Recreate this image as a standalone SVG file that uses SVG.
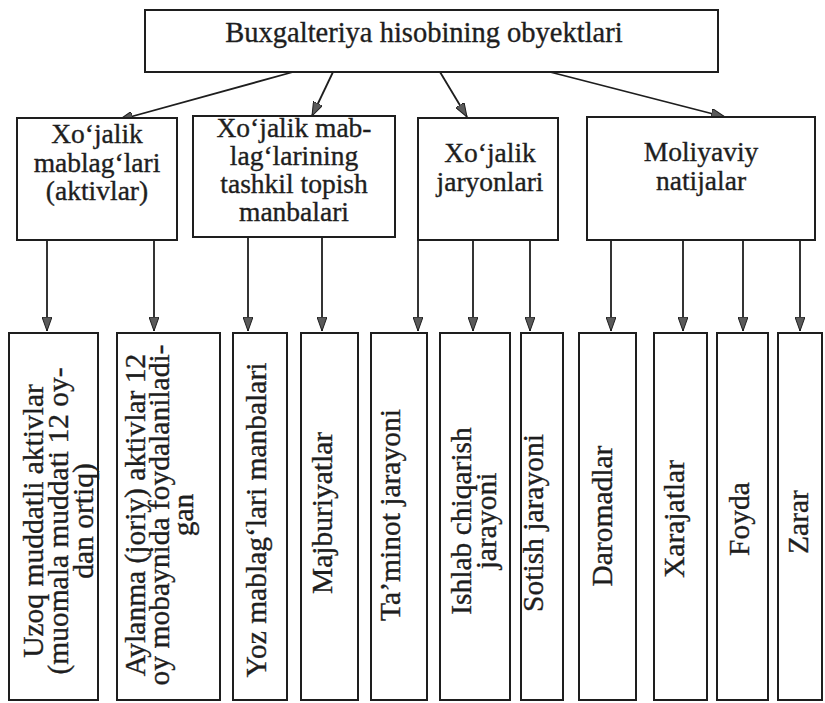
<svg xmlns="http://www.w3.org/2000/svg" width="825" height="703" viewBox="0 0 825 703">
<style>
  .box { fill: #ffffff; stroke: #1e1e1e; stroke-width: 2; }
  .txt { font-family: "Liberation Serif", "Times New Roman", serif; font-size: 27.5px; fill: #1e1e1e; stroke: #1e1e1e; stroke-width: 0.35; text-anchor: middle; }
  .vt { font-size: 29.5px; }
  .con { stroke: #1e1e1e; stroke-width: 1.8; fill: none; marker-end: url(#ah); }
</style>
<defs>
  <marker id="ah" viewBox="0 0 14 10" refX="14" refY="5" markerWidth="14" markerHeight="10" markerUnits="userSpaceOnUse" orient="auto">
    <path d="M0,0 L14,5 L0,10 z" fill="#5a5a5a" stroke="#1e1e1e" stroke-width="1"/>
  </marker>
</defs>
<rect width="825" height="703" fill="#ffffff"/>

<g id="connectors">
  <line class="con" x1="293" y1="72" x2="119" y2="120"/>
  <line class="con" x1="333" y1="72" x2="312" y2="116"/>
  <line class="con" x1="440" y1="72" x2="467" y2="117"/>
  <line class="con" x1="550" y1="72" x2="725" y2="117"/>

  <line class="con" x1="47" y1="240" x2="47" y2="331"/>
  <line class="con" x1="154" y1="240" x2="154" y2="331"/>
  <line class="con" x1="248" y1="237" x2="248" y2="331"/>
  <line class="con" x1="322" y1="237" x2="322" y2="331"/>
  <line class="con" x1="418" y1="240" x2="418" y2="331"/>
  <line class="con" x1="473" y1="240" x2="473" y2="331"/>
  <line class="con" x1="530" y1="240" x2="530" y2="331"/>
  <line class="con" x1="611" y1="240" x2="611" y2="331"/>
  <line class="con" x1="683" y1="240" x2="683" y2="331"/>
  <line class="con" x1="743" y1="240" x2="743" y2="331"/>
  <line class="con" x1="800" y1="240" x2="800" y2="331"/>
</g>

<g id="root">
  <rect class="box" x="145" y="10" width="573" height="62"/>
  <text class="txt" x="424" y="42" style="font-size:28.5px">Buxgalteriya hisobining obyektlari</text>
</g>

<g id="aktivlar">
  <rect class="box" x="17" y="118" width="160" height="122"/>
  <text class="txt"><tspan x="97" y="143">Xo‘jalik</tspan><tspan x="97" y="171.5">mablag‘lari</tspan><tspan x="97" y="200">(aktivlar)</tspan></text>
</g>

<g id="manbalar">
  <rect class="box" x="193" y="116" width="202" height="121"/>
  <text class="txt"><tspan x="294" y="137">Xo‘jalik mab-</tspan><tspan x="294" y="165">lag‘larining</tspan><tspan x="294" y="193">tashkil topish</tspan><tspan x="294" y="221">manbalari</tspan></text>
</g>

<g id="jaryonlar">
  <rect class="box" x="418" y="118" width="140" height="122"/>
  <text class="txt"><tspan x="490" y="162">Xo‘jalik</tspan><tspan x="490" y="190.5">jaryonlari</tspan></text>
</g>

<g id="natijalar">
  <rect class="box" x="587" y="117" width="228" height="123"/>
  <text class="txt"><tspan x="701" y="161">Moliyaviy</tspan><tspan x="701" y="190">natijalar</tspan></text>
</g>

<g id="uzoq">
  <rect class="box" x="9" y="333" width="89" height="367"/>
  <text class="txt vt" transform="translate(0,521) rotate(-90)"><tspan x="0" y="43">Uzoq muddatli aktivlar</tspan><tspan x="0" y="68">(muomala muddati 12 oy-</tspan><tspan x="0" y="93">dan ortiq)</tspan></text>
</g>

<g id="aylanma">
  <rect class="box" x="117" y="333" width="103" height="367"/>
  <text class="txt vt" transform="translate(0,515) rotate(-90)"><tspan x="0" y="145">Aylanma (joriy) aktivlar 12</tspan><tspan x="0" y="169">oy mobaynida foydalaniladi-</tspan><tspan x="0" y="193">gan</tspan></text>
</g>

<g id="yoz">
  <rect class="box" x="233" y="333" width="54" height="367"/>
  <text class="txt vt" transform="translate(0,520) rotate(-90)"><tspan x="0" y="266">Yoz mablag‘lari manbalari</tspan></text>
</g>

<g id="majburiyatlar">
  <rect class="box" x="301" y="333" width="57" height="367"/>
  <text class="txt vt" transform="translate(0,513) rotate(-90)"><tspan x="0" y="332">Majburiyatlar</tspan></text>
</g>

<g id="taminot">
  <rect class="box" x="371" y="333" width="56" height="367"/>
  <text class="txt vt" transform="translate(0,515) rotate(-90)"><tspan x="0" y="400">Ta’minot jarayoni</tspan></text>
</g>

<g id="ishlab">
  <rect class="box" x="440" y="333" width="70" height="367"/>
  <text class="txt vt" transform="translate(0,521) rotate(-90)"><tspan x="0" y="471">Ishlab chiqarish</tspan><tspan x="0" y="496">jarayoni</tspan></text>
</g>

<g id="sotish">
  <rect class="box" x="521" y="333" width="42" height="367"/>
  <text class="txt vt" transform="translate(0,523) rotate(-90)"><tspan x="0" y="543">Sotish jarayoni</tspan></text>
</g>

<g id="daromadlar">
  <rect class="box" x="579" y="333" width="57" height="367"/>
  <text class="txt vt" transform="translate(0,516) rotate(-90)"><tspan x="0" y="612">Daromadlar</tspan></text>
</g>

<g id="xarajatlar">
  <rect class="box" x="654" y="333" width="53" height="367"/>
  <text class="txt vt" transform="translate(0,519) rotate(-90)"><tspan x="0" y="684">Xarajatlar</tspan></text>
</g>

<g id="foyda">
  <rect class="box" x="717" y="333" width="51" height="367"/>
  <text class="txt vt" transform="translate(0,519) rotate(-90)"><tspan x="0" y="749">Foyda</tspan></text>
</g>

<g id="zarar">
  <rect class="box" x="778" y="333" width="44" height="367"/>
  <text class="txt vt" transform="translate(0,522) rotate(-90)"><tspan x="0" y="808">Zarar</tspan></text>
</g>
</svg>
